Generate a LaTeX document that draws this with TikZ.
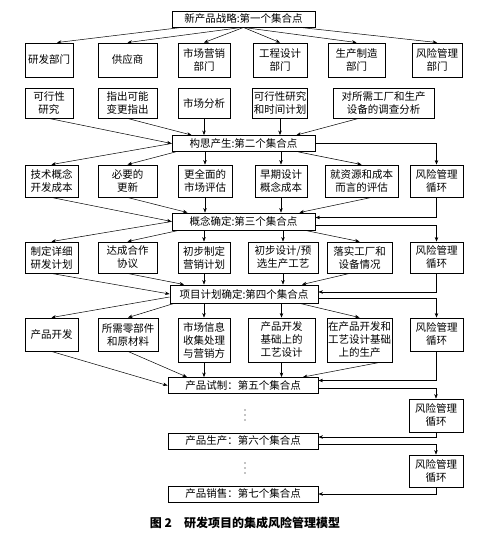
\documentclass[tikz,border=0pt]{standalone}
\usepackage{fontspec}
\setmainfont{Noto Sans CJK SC}
\usetikzlibrary{arrows.meta}

\tikzset{
  kuang/.style={draw, line width=0.9pt, inner sep=1pt, align=center,
    font=\fontsize{10.5}{13}\selectfont},
  jihe/.style={kuang, minimum height=16pt},
  lian/.style={line width=0.5pt, -{Stealth[length=4.5pt,width=3.5pt]}},
}

\begin{document}
\begin{tikzpicture}[x=1pt, y=-1pt]
    \useasboundingbox (0,0) rectangle (481,535);

    % 第一个集合点及各部门
    \node[jihe, minimum width=143pt] (k1) at (243.5,19) {新产品战略:第一个集合点};
    \node[kuang, minimum width=48pt, minimum height=34pt] (bm1) at (49,60) {研发部门};
    \node[kuang, minimum width=59pt, minimum height=34pt] (bm2) at (127.5,60) {供应商};
    \node[kuang, minimum width=52pt, minimum height=34pt] (bm3) at (204,60) {市场营销\\部门};
    \node[kuang, minimum width=54pt, minimum height=34pt] (bm4) at (280,60) {工程设计\\部门};
    \node[kuang, minimum width=57pt, minimum height=34pt] (bm5) at (356.5,60) {生产制造\\部门};
    \node[kuang, minimum width=50pt, minimum height=34pt] (bm6) at (437,60) {风险管理\\部门};
    \draw[lian] ([xshift=10pt]k1.south west) -- ([xshift=8pt]bm1.north);
    \draw[lian] ([xshift=-2pt]k1.south) -- (bm2.north);
    \draw[lian] (k1.south) -- (bm3.north);
    \draw[lian] (k1.south) -- (bm4.north);
    \draw[lian] (k1.south) -- (bm5.north);
    \draw[lian] ([xshift=-15pt]k1.south east) -- (bm6.north);

    % 第一阶段工作
    \node[kuang, minimum width=48pt, minimum height=30pt] (a1) at (49,103) {可行性\\研究};
    \node[kuang, minimum width=59pt, minimum height=30pt] (a2) at (127.5,103) {指出可能\\变更指出};
    \node[kuang, minimum width=52pt, minimum height=30pt] (a3) at (204,103) {市场分析};
    \node[kuang, minimum width=54pt, minimum height=30pt] (a4) at (280,103) {可行性研究\\和时间计划};
    \node[kuang, minimum width=101pt, minimum height=30pt] (a5) at (383.5,103) {对所需工厂和生产\\设备的调查分析};

    % 第二个集合点
    \node[jihe, minimum width=143pt] (k2) at (243.5,143.5) {构思产生:第二个集合点};
    \draw[lian] (a1.south) -- (k2.west);
    \draw[lian] (a2.south) -- ([xshift=-52pt]k2.north);
    \draw[lian] (a3.south) -- (a3.south |- k2.north);
    \draw[lian] (a4.south) -- (a4.south |- k2.north);
    \draw[lian] ([xshift=-25pt]a5.south) -- ([xshift=53pt]k2.north);

    \node[kuang, minimum width=53pt, minimum height=32pt] (b1) at (51.5,181) {技术概念\\开发成本};
    \node[kuang, minimum width=59pt, minimum height=32pt] (b2) at (127.5,181) {必要的\\更新};
    \node[kuang, minimum width=54pt, minimum height=32pt] (b3) at (205,181) {更全面的\\市场评估};
    \node[kuang, minimum width=52pt, minimum height=32pt] (b4) at (281,181) {早期设计\\概念成本};
    \node[kuang, minimum width=73pt, minimum height=32pt] (b5) at (361.5,181) {就资源和成本\\而言的评估};
    \node[kuang, minimum width=53pt, minimum height=32pt] (r1) at (436.5,181) {风险管理\\循环};
    \draw[lian] (k2.west) -- (b1.north);
    \draw[lian] ([xshift=-68pt]k2.south) -- (b2.north);
    \draw[lian] (b3.north |- k2.south) -- (b3.north);
    \draw[lian] (b4.north |- k2.south) -- (b4.north);
    \draw[lian] ([xshift=55pt]k2.south) -- (b5.north);
    \draw[lian] (k2.east) -| (r1.north);

    % 第三个集合点
    \node[jihe, minimum width=143pt, minimum height=17pt] (k3) at (243.5,221.5) {概念确定:第三个集合点};
    \draw[lian] (b1.south) -- (k3.west);
    \draw[lian] (b2.south) -- ([xshift=-56pt]k3.north);
    \draw[lian] (b3.south) -- (b3.south |- k3.north);
    \draw[lian] (b4.south) -- (b4.south |- k3.north);
    \draw[lian] ([xshift=10pt]b5.south) -- ([xshift=56pt]k3.north);
    \draw[lian] (r1.south) |- ([yshift=4pt]k3.east);

    \node[kuang, minimum width=53pt, minimum height=31pt] (c1) at (51.5,257.5) {制定详细\\研发计划};
    \node[kuang, minimum width=59pt, minimum height=31pt] (c2) at (127.5,257.5) {达成合作\\协议};
    \node[kuang, minimum width=52pt, minimum height=31pt] (c3) at (204,257.5) {初步制定\\营销计划};
    \node[kuang, minimum width=70pt, minimum height=31pt] (c4) at (283,257.5) {初步设计/预\\选生产工艺};
    \node[kuang, minimum width=65pt, minimum height=31pt] (c5) at (359.5,257.5) {落实工厂和\\设备情况};
    \node[kuang, minimum width=53pt, minimum height=31pt] (r2) at (436.5,257.5) {风险管理\\循环};
    \draw[lian] (k3.west) -- (c1.north);
    \draw[lian] ([xshift=-65pt]k3.south) -- (c2.north);
    \draw[lian] (c3.north |- k3.south) -- (c3.north);
    \draw[lian] (c4.north |- k3.south) -- (c4.north);
    \draw[lian] ([xshift=-10pt]k3.south east) -- (c5.north);
    \draw[lian] ([yshift=-4pt]k3.east) -| (r2.north);

    % 第四个集合点
    \node[jihe, minimum width=148pt, minimum height=18pt] (k4) at (244,294) {项目计划确定:第四个集合点};
    \draw[lian] (c1.south) -- (k4.west);
    \draw[lian] (c2.south) -- ([xshift=-60pt]k4.north);
    \draw[lian] (c3.south) -- (c3.south |- k4.north);
    \draw[lian] (c4.south) -- (c4.south |- k4.north);
    \draw[lian] ([xshift=-10pt]c5.south) -- ([xshift=58pt]k4.north);
    \draw[lian] (r2.south) |- ([yshift=2pt]k4.east);

    \node[kuang, minimum width=53pt, minimum height=33pt] (d1) at (51.5,334.5) {产品开发};
    \node[kuang, minimum width=60pt, minimum height=33pt] (d2) at (128,334.5) {所需零部件\\和原材料};
    \node[kuang, minimum width=52pt, minimum height=44pt] (d3) at (204,340) {市场信息\\收集处理\\与营销方};
    \node[kuang, minimum width=67pt, minimum height=44pt] (d4) at (281.5,340) {产品开发\\基础上的\\工艺设计};
    \node[kuang, minimum width=65pt, minimum height=44pt] (d5) at (359.5,340) {在产品开发和\\工艺设计基础\\上的生产};
    \node[kuang, minimum width=53pt, minimum height=33pt] (r3) at (436.5,334.5) {风险管理\\循环};
    \draw[lian] ([yshift=-3pt]k4.west) -- (d1.north);
    \draw[lian] ([xshift=-70pt]k4.south) -- (d2.north);
    \draw[lian] (d3.north |- k4.south) -- (d3.north);
    \draw[lian] (d4.north |- k4.south) -- (d4.north);
    \draw[lian] ([xshift=56pt]k4.south) -- (d5.north);
    \draw[lian] ([yshift=-4pt]k4.east) -| (r3.north);

    % 第五个集合点
    \node[jihe, minimum width=150pt] (k5) at (243,385.5) {产品试制：第五个集合点};
    \draw[lian] (d1.south) -- (k5.west);
    \draw[lian] (d2.south) -- ([xshift=-56pt]k5.north);
    \draw[lian] (d3.south) -- (d3.south |- k5.north);
    \draw[lian] (d4.south) -- (d4.south |- k5.north);
    \draw[lian] ([xshift=20pt]d5.south) -- ([xshift=60pt]k5.north);
    \draw[lian] (r3.south) |- ([yshift=5pt]k5.east);

    % 第六、第七个集合点
    \node[kuang, minimum width=54pt, minimum height=33pt] (r4) at (436,415.5) {风险管理\\循环};
    \node[jihe, minimum width=150pt] (k6) at (243,441) {产品生产：第六个集合点};
    \draw[lian] ([yshift=-3pt]k5.east) -| (r4.north);
    \draw[lian] (r4.south) |- ([yshift=4pt]k6.east);

    \node[kuang, minimum width=54pt, minimum height=32pt] (r5) at (436,471) {风险管理\\循环};
    \node[jihe, minimum width=150pt] (k7) at (243,494) {产品销售：第七个集合点};
    \draw[lian] ([yshift=-3pt]k6.east) -| (r5.north);
    \draw[lian] (r5.south) |- (k7.east);

    % 省略号
    \foreach \yy in {410,415,420,463,468,473}
        \fill (245,\yy) circle (0.7pt);

    % 图题
    \node[font=\bfseries\fontsize{12}{14}\selectfont] (tt) at (245,523) {图 2\quad 研发项目的集成风险管理模型};
\end{tikzpicture}
\end{document}
